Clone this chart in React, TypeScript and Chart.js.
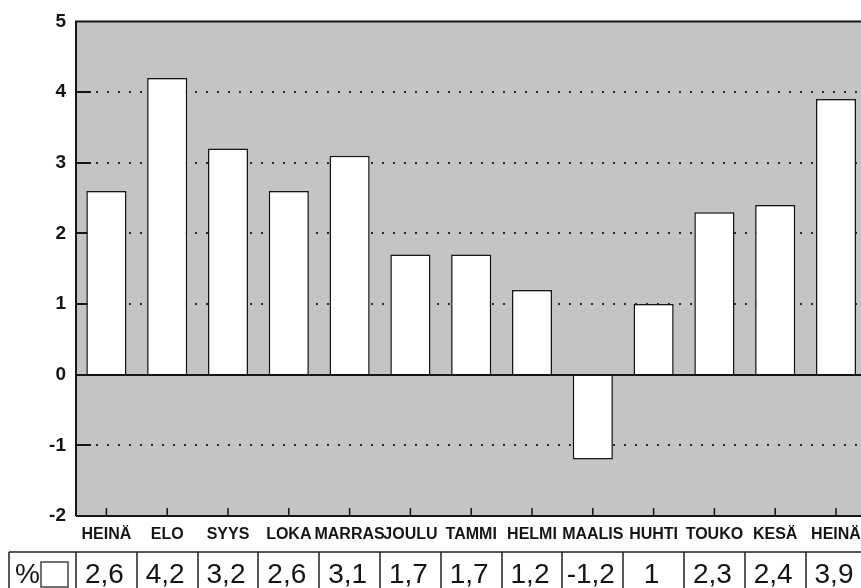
import { useEffect, useRef } from "react";
import { Chart, registerables } from "chart.js";
Chart.register(...registerables);

const categories = ["HEINÄ", "ELO", "SYYS", "LOKA", "MARRAS", "JOULU", "TAMMI", "HELMI", "MAALIS", "HUHTI", "TOUKO", "KESÄ", "HEINÄ"];
const values = [2.6, 4.2, 3.2, 2.6, 3.1, 1.7, 1.7, 1.2, -1.2, 1, 2.3, 2.4, 3.9];
const tableLabels = ["2,6", "4,2", "3,2", "2,6", "3,1", "1,7", "1,7", "1,2", "-1,2", "1", "2,3", "2,4", "3,9"];
const yMin = -2;
const yMax = 5;
const dottedLevels = [4, 3, 2, 1, -1];
const tickLevels = [4, 3, 2, 1, -1];
const seriesLabel = "%";

const CW = 880;
const CH = 600;
const PLOT_LEFT = 76;
const CAT_W = 60.8;
const PLOT_RIGHT = PLOT_LEFT + CAT_W * categories.length;
const INK = "#151515";
const FONT = "'Liberation Sans', Arial, Helvetica, sans-serif";

const plotPlugin = {
  id: "plotDecor",
  beforeDatasetsDraw(chart: any) {
    const { ctx, chartArea: a, scales } = chart;
    const y = scales.y;
    const x = scales.x;
    ctx.save();
    ctx.fillStyle = "rgb(196,196,196)";
    ctx.fillRect(a.left, a.top, a.right - a.left, a.bottom - a.top);
    // dotted grid lines
    ctx.strokeStyle = "#2a2a2a";
    ctx.lineWidth = 2;
    ctx.setLineDash([2, 9]);
    for (const v of dottedLevels) {
      const py = Math.round(y.getPixelForValue(v));
      ctx.beginPath();
      ctx.moveTo(a.left + 20, py);
      ctx.lineTo(a.right, py);
      ctx.stroke();
    }
    ctx.setLineDash([]);
    // left solid tick marks
    ctx.lineWidth = 2;
    ctx.strokeStyle = INK;
    for (const v of tickLevels) {
      const py = Math.round(y.getPixelForValue(v));
      ctx.beginPath();
      ctx.moveTo(a.left, py);
      ctx.lineTo(a.left + 15, py);
      ctx.stroke();
    }
    // bottom tick marks at category centers
    ctx.lineWidth = 1.5;
    for (let i = 0; i < categories.length; i++) {
      const px = x.getPixelForValue(i);
      ctx.beginPath();
      ctx.moveTo(px, a.bottom);
      ctx.lineTo(px, a.bottom - 8);
      ctx.stroke();
    }
    ctx.restore();
  },
  afterDatasetsDraw(chart: any) {
    const { ctx, chartArea: a, scales } = chart;
    const y = scales.y;
    ctx.save();
    ctx.strokeStyle = INK;
    ctx.lineWidth = 2;
    const z = Math.round(y.getPixelForValue(0));
    ctx.beginPath();
    ctx.moveTo(a.left, z);
    ctx.lineTo(a.right, z);
    ctx.stroke();
    // borders
    ctx.beginPath();
    ctx.moveTo(a.left, a.bottom);
    ctx.lineTo(a.left, a.top);
    ctx.lineTo(a.right, a.top);
    ctx.moveTo(a.left, a.bottom);
    ctx.lineTo(a.right, a.bottom);
    ctx.stroke();
    ctx.restore();
  },
  afterDraw(chart: any) {
    const { ctx, scales } = chart;
    const x = scales.x;
    const top = 552;
    const bottom = 599;
    ctx.save();
    ctx.strokeStyle = "#222";
    ctx.lineWidth = 1.5;
    ctx.beginPath();
    ctx.moveTo(9, top);
    ctx.lineTo(CW, top);
    ctx.moveTo(9, bottom);
    ctx.lineTo(CW, bottom);
    ctx.moveTo(9, top);
    ctx.lineTo(9, bottom);
    for (let i = 0; i < categories.length; i++) {
      const px = Math.round(x.getPixelForValue(i) - CAT_W / 2);
      ctx.moveTo(px, top);
      ctx.lineTo(px, bottom);
    }
    ctx.stroke();
    ctx.fillStyle = INK;
    ctx.font = `28px ${FONT}`;
    ctx.textAlign = "center";
    ctx.textBaseline = "alphabetic";
    for (let i = 0; i < tableLabels.length; i++) {
      ctx.fillText(tableLabels[i], x.getPixelForValue(i) - 2, 583);
    }
    ctx.textAlign = "left";
    ctx.fillText(seriesLabel, 15, 583);
    ctx.fillStyle = "#fff";
    ctx.fillRect(41, 562, 27, 25);
    ctx.strokeStyle = "#444";
    ctx.strokeRect(41, 562, 27, 25);
    ctx.restore();
  },
};

export default function App() {
  const ref = useRef<HTMLCanvasElement | null>(null);
  useEffect(() => {
    document.body.style.margin = "0";
    document.body.style.overflow = "hidden";
    document.documentElement.style.overflow = "hidden";
    const canvas = ref.current;
    if (!canvas) return;
    const chart = new Chart(canvas, {
      type: "bar",
      data: {
        labels: categories,
        datasets: [
          {
            label: seriesLabel,
            data: values,
            backgroundColor: "#ffffff",
            borderColor: INK,
            borderWidth: 1.5,
            barPercentage: 0.66,
            categoryPercentage: 1,
          },
        ],
      },
      options: {
        responsive: false,
        animation: false,
        devicePixelRatio: 1,
        layout: {
          padding: { top: 18, left: 0, right: CW - PLOT_RIGHT, bottom: CH - 516 - 30 },
        },
        plugins: {
          legend: { display: false },
          tooltip: { enabled: false },
        },
        scales: {
          x: {
            grid: { display: false, drawTicks: false },
            border: { display: false },
            ticks: {
              autoSkip: false,
              maxRotation: 0,
              minRotation: 0,
              padding: 9,
              color: INK,
              font: { family: FONT, size: 16, weight: "bold" },
            },
            afterFit(scale: any) {
              scale.height = 30;
            },
          },
          y: {
            min: yMin,
            max: yMax,
            grid: { display: false, drawTicks: false },
            border: { display: false },
            ticks: {
              stepSize: 1,
              padding: 10,
              color: INK,
              font: { family: FONT, size: 19, weight: "bold" },
            },
            afterFit(scale: any) {
              scale.width = PLOT_LEFT;
            },
          },
        },
      },
      plugins: [plotPlugin],
    });
    return () => chart.destroy();
  }, []);
  return (
    <div style={{ width: 861, height: 588, overflow: "hidden", position: "relative", background: "#fff" }}>
      <canvas ref={ref} width={CW} height={CH} style={{ width: CW, height: CH, display: "block" }} />
    </div>
  );
}
